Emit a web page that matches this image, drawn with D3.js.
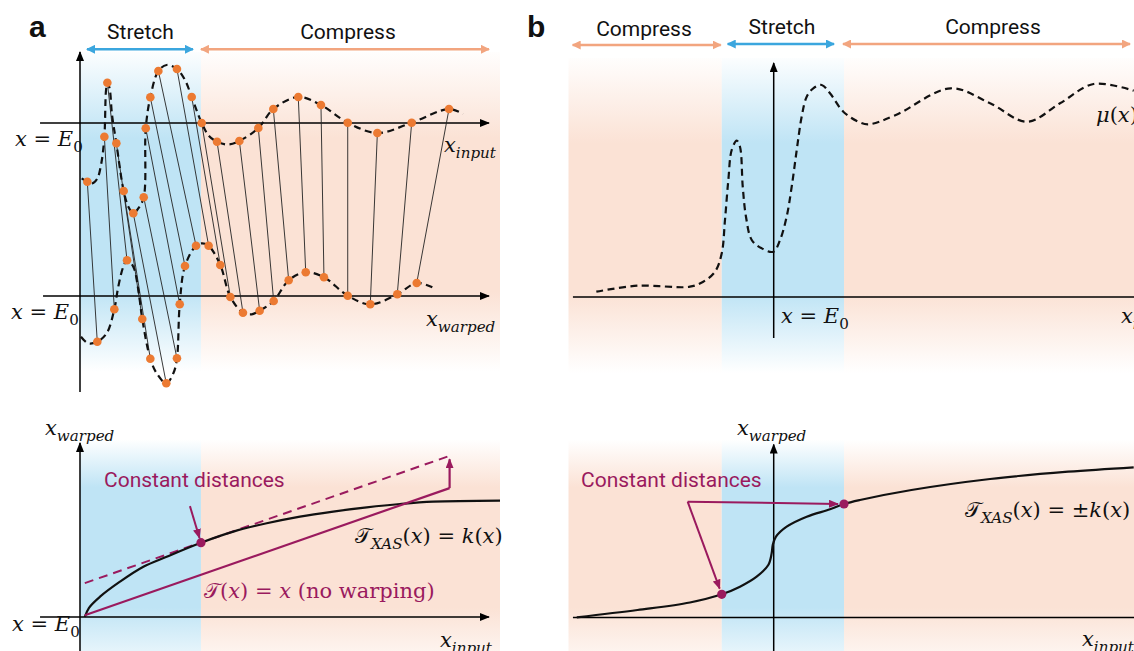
<!DOCTYPE html>
<html><head><meta charset="utf-8">
<script src="https://cdn.jsdelivr.net/npm/d3@7"></script>
<style>
html,body{margin:0;padding:0;background:#fff;overflow:hidden}
svg{display:block}
</style></head><body>
<svg id="fig" width="1134" height="651"></svg>
<script>
// ---------- data (x relative to E0, y as signal amplitude) ----------
// Panel a: samples of the input spectrum and of its warped copy
const inputSamples = [[0.61,-5.87],[2.03,-1.37],[2.28,4.03],[3.03,-2.03],[3.64,-6.8],[4.44,-9.03],[5.31,-7.43],[5.48,-0.53],[5.86,2.57],[6.53,5.2],[8.08,5.4],[9.31,2.6],[10.14,0],[11.42,-1.87],[13.28,-1.8],[14.86,-0.5],[16.11,1.4],[18.19,2.6],[20.08,1.8],[22.31,0.03],[24.78,-1.0],[27.64,0.03],[30.75,1.4]];
const inputKnots = [[0.14,-5.53],[1.0,-6.05],[1.42,-5.6],[1.75,-4.2],[2.17,3.3],[2.46,3.5],[2.67,0.8],[4.03,-8.37],[4.86,-8.53],[7.22,5.8],[8.75,4.3],[10.75,-1.3],[12.33,-2.15],[31.92,0.9]];
const warpedSamples = [[1.44,-4.57],[2.86,-1.33],[3.92,3.57],[5.19,-2.3],[5.86,-6.27],[7.19,-8.73],[8.08,-6.23],[8.31,-0.83],[8.75,3.0],[9.67,5.03],[10.72,5.03],[11.69,3.1],[12.53,-0.1],[13.58,-1.67],[14.97,-1.47],[16.14,-0.5],[17.39,1.57],[18.81,2.37],[20.33,1.87],[22.31,0.03],[24.19,-0.83],[26.44,0.17],[28.06,1.3]];
const warpedKnots = [[0.08,-4.07],[0.69,-4.73],[2.22,-3.73],[3.19,0.93],[3.61,2.93],[4.44,2.93],[4.86,0.6],[6.39,-7.73],[7.78,-7.73],[10.19,5.27],[14.31,-1.83],[29.36,0.87]];
// Panel a, lower plot: warping function k(x) and reference lines
const kxCurve = [[0.4,0],[0.75,2.2],[1.67,4.85],[3.33,8.43],[5.28,12.0],[7.22,14.4],[10.08,17.75],[12.78,20.4],[15.56,22.4],[18.33,24.0],[21.1,25.2],[23.9,26.2],[26.67,27.0],[29.44,27.55],[35,27.8]];
const identityLine = [[0.4,0.4],[30.8,30.8]];
const shiftedLine = [[0.4,8.1],[30.9,38.6]];
const anchorA = [10.08,17.75];
const stretchA = [0,10.08], extentA = 35;
// Panel b: absorption spectrum mu(x) and the symmetric warping function
const muCurve = [[-14.78,0.53],[-11.35,1.13],[-6.98,1.03],[-5.87,1.53],[-4.89,2.53],[-4.33,4.37],[-4.06,7.7],[-3.78,11.7],[-3.5,14.7],[-3.08,15.63],[-2.81,15.03],[-2.58,11.03],[-2.31,8.03],[-1.83,5.7],[-1.0,4.87],[-0.03,4.53],[0.53,5.7],[1.08,8.03],[1.5,11.03],[1.92,14.7],[2.33,18.03],[2.75,20.03],[3.3,20.87],[4.0,21.2],[4.69,20.37],[5.8,18.53],[7.05,17.53],[7.9,17.27],[10.18,18.2],[14.75,20.87],[18.03,19.37],[21.11,17.53],[23.86,19.37],[26.66,21.3],[30.0,20.63]];
const kCurveB = [[-16.41,0.02],[-11.35,0.75],[-6.98,1.5],[-4.33,2.32],[-2.81,3.08],[-1.42,4.08],[-0.45,5.25],[-0.17,6.42],[-0.08,7.25],[0.19,8.08],[1.08,9.08],[2.75,10.08],[4.69,10.82],[5.86,11.35],[7.19,11.75],[11.48,12.75],[18.03,13.85],[24.53,14.58],[30.0,15.02]];
const anchorsB = [[-4.33,2.32],[5.86,11.35]];
const stretchB = [-4.33,5.86], extentB = [-17.1,30.5];
// Text
const regionLabels = {stretch:"Stretch", compress:"Compress"};
const noteText = "Constant distances";

// ---------- styling ----------
const BLUE_FILL="#bfe4f5", ORANGE_FILL="#fbe2d5", BLUE_LINE="#3ba6de", ORANGE_LINE="#f2a57f", PURPLE="#9a1a5e", DOT="#ec7a32";
const SANS='Roboto, "Liberation Sans", sans-serif';
const SERIF='"DejaVu Serif", "DejaVu Sans", "Noto Sans", serif';
const MATH_SIZE = 21;
const DASH = "7,4.5";

const svg = d3.select("#fig");
svg.append("rect").attr("width",1134).attr("height",651).attr("fill","#fff");
const defs = svg.append("defs");

function grad(id, color, stops){
  const g = defs.append("linearGradient").attr("id",id).attr("x1",0).attr("y1",0).attr("x2",0).attr("y2",1);
  stops.forEach(([o,a])=>g.append("stop").attr("offset",o).attr("stop-color",color).attr("stop-opacity",a));
}
const topStops=[[0,0.05],[0.27,1],[0.75,1],[1,0]];
const botStops=[[0,0],[0.2,1],[0.7,1],[1,0]];
grad("gBlueTop",BLUE_FILL,topStops); grad("gOrTop",ORANGE_FILL,topStops);
grad("gBlueBot",BLUE_FILL,botStops); grad("gOrBot",ORANGE_FILL,botStops);

function marker(id,color,w,h){
  defs.append("marker").attr("id",id).attr("viewBox",`0 0 ${w} ${h}`)
    .attr("refX",w-1).attr("refY",h/2).attr("markerWidth",w).attr("markerHeight",h)
    .attr("markerUnits","userSpaceOnUse").attr("orient","auto-start-reverse")
    .append("path").attr("d",`M0,0L${w},${h/2}L0,${h}Z`).attr("fill",color);
}
marker("mAxis","#000",10,8); marker("mBlue",BLUE_LINE,9,9); marker("mOr",ORANGE_LINE,9,9); marker("mPur",PURPLE,10,8);

// ---------- scales ----------
const xA = d3.scaleLinear().domain([0,35]).range([80,500]);
const yAin = d3.scaleLinear().domain([0,10]).range([123,23]);
const yAw = d3.scaleLinear().domain([0,10]).range([296,196]);
const yAb = d3.scaleLinear().domain([0,40]).range([617,449.6]);
const xB = d3.scaleLinear().domain([0,30]).range([773.7,1133.7]);
const yBt = d3.scaleLinear().domain([0,10]).range([297,197]);
const yBb = d3.scaleLinear().domain([0,10]).range([617.5,517.5]);

const smooth = d3.curveCatmullRom.alpha(0.5);
const byX = (a,b)=>a[0]-b[0];

// ---------- helpers ----------
function band(x, x0, x1, y, y0, y1, fill){
  svg.append("rect").attr("x",x(x0)).attr("width",x(x1)-x(x0))
    .attr("y",y(y0)).attr("height",y(y1)-y(y0)).attr("fill",fill);
}
function segment(p0,p1,opt){
  const l = svg.append("line").attr("x1",p0[0]).attr("y1",p0[1]).attr("x2",p1[0]).attr("y2",p1[1])
    .attr("stroke",opt.color||"#000").attr("stroke-width",opt.width||1.5);
  if(opt.end) l.attr("marker-end",`url(#${opt.end})`);
  if(opt.start) l.attr("marker-start",`url(#${opt.start})`);
  if(opt.dash) l.attr("stroke-dasharray",opt.dash);
  return l;
}
function mathLabel(x,y,parts,opt={}){
  const size=opt.size||MATH_SIZE;
  const t=svg.append("text").attr("x",x).attr("y",y).attr("font-family",SERIF)
    .attr("font-size",size).attr("fill",opt.color||"#111").attr("text-anchor",opt.anchor||"start")
    .style("white-space","pre");
  let shift=0;
  parts.forEach(p=>{
    const s=t.append("tspan").text(p.t);
    if(p.i) s.attr("font-style","italic");
    const target=p.sub?size*0.3:0;
    if(target!==shift){ s.attr("dy",target-shift); shift=target; }
    if(p.sub) s.attr("font-size",size*0.72);
  });
  return t;
}
function sansLabel(x,y,txt,opt={}){
  return svg.append("text").attr("x",x).attr("y",y).text(txt).attr("font-family",opt.family||SANS)
    .attr("font-size",opt.size||21).attr("font-weight",opt.weight||400)
    .attr("fill",opt.color||"#111").attr("text-anchor",opt.anchor||"middle");
}
function shorten(p0,p1,d){
  const dx=p1[0]-p0[0], dy=p1[1]-p0[1], L=Math.hypot(dx,dy);
  return [p1[0]-dx/L*d, p1[1]-dy/L*d];
}
const xEq=[{t:"x",i:1},{t:" = "},{t:"E",i:1},{t:"0",sub:1}];
const xIn=[{t:"x",i:1},{t:"input",i:1,sub:1}];
const xWarp=[{t:"x",i:1},{t:"warped",i:1,sub:1}];

// ================= Panel a (top) =================
band(xA,stretchA[0],stretchA[1],yAin,7.1,-24.9,"url(#gBlueTop)");
band(xA,stretchA[1],extentA,yAin,7.1,-24.9,"url(#gOrTop)");
// region arrows
segment([xA(stretchA[0])+7,49.3],[xA(stretchA[1])-8,49.3],{color:BLUE_LINE,width:2.5,start:"mBlue",end:"mBlue"});
segment([xA(stretchA[1]),49.3],[xA(34.08),49.3],{color:ORANGE_LINE,width:2.5,start:"mOr",end:"mOr"});
sansLabel((xA(stretchA[0])+xA(stretchA[1]))/2,39,regionLabels.stretch);
sansLabel(348,39,regionLabels.compress);
sansLabel(29,37,"a",{size:30,weight:700,anchor:"start",family:'"Liberation Sans", Arial, sans-serif'});
// axes
segment([xA(0),yAin(-26.9)],[xA(0),yAin(7.1)],{end:"mAxis"});
segment([xA(-3.33),yAin(0)],[xA(34.08),yAin(0)],{end:"mAxis"});
segment([xA(-3.08),yAw(0)],[xA(34.08),yAw(0)],{end:"mAxis"});
// sample correspondences
inputSamples.forEach((p,i)=>{
  const q=warpedSamples[i];
  segment([xA(p[0]),yAin(p[1])],[xA(q[0]),yAw(q[1])],{color:"#222",width:0.9});
});
// dashed spectra
const lineIn=d3.line().x(d=>xA(d[0])).y(d=>yAin(d[1])).curve(smooth);
const lineW=d3.line().x(d=>xA(d[0])).y(d=>yAw(d[1])).curve(smooth);
svg.append("path").attr("d",lineIn(inputSamples.concat(inputKnots).sort(byX)))
  .attr("fill","none").attr("stroke","#111").attr("stroke-width",2.2).attr("stroke-dasharray",DASH);
svg.append("path").attr("d",lineW(warpedSamples.concat(warpedKnots).sort(byX)))
  .attr("fill","none").attr("stroke","#111").attr("stroke-width",2.2).attr("stroke-dasharray",DASH);
svg.append("g").selectAll("circle").data(inputSamples).join("circle")
  .attr("cx",d=>xA(d[0])).attr("cy",d=>yAin(d[1])).attr("r",4.3).attr("fill",DOT);
svg.append("g").selectAll("circle").data(warpedSamples).join("circle")
  .attr("cx",d=>xA(d[0])).attr("cy",d=>yAw(d[1])).attr("r",4.3).attr("fill",DOT);
mathLabel(15,146,xEq);
mathLabel(11,319,xEq);
mathLabel(444,152,xIn);
mathLabel(426,326,xWarp);

// ================= Panel a (bottom) =================
band(xA,stretchA[0],stretchA[1],yAb,42.5,-15,"url(#gBlueBot)");
band(xA,stretchA[1],extentA,yAb,42.5,-15,"url(#gOrBot)");
segment([xA(0),yAb(-8.5)],[xA(0),yAb(41.6)],{end:"mAxis"});
segment([xA(-3.33),yAb(0)],[xA(34.08),yAb(0)],{end:"mAxis"});
const lineAb=d3.line().x(d=>xA(d[0])).y(d=>yAb(d[1]));
svg.append("path").attr("d",lineAb(shiftedLine)).attr("fill","none").attr("stroke",PURPLE)
  .attr("stroke-width",2).attr("stroke-dasharray","9,6");
svg.append("path").attr("d",lineAb.curve(smooth)(kxCurve)).attr("fill","none").attr("stroke","#111").attr("stroke-width",2.2);
svg.append("path").attr("d",d3.line().x(d=>xA(d[0])).y(d=>yAb(d[1]))(identityLine)).attr("fill","none")
  .attr("stroke",PURPLE).attr("stroke-width",2.2);
// offset arrow between the two reference lines
const endId=identityLine[1];
segment([xA(endId[0]),yAb(endId[1])],[xA(endId[0]),yAb(endId[1]+6.9)],{color:PURPLE,width:2.2,end:"mPur"});
svg.append("circle").attr("cx",xA(anchorA[0])).attr("cy",yAb(anchorA[1])).attr("r",4.6).attr("fill",PURPLE);
{
  const p0=[xA(anchorA[0]-0.92),yAb(anchorA[1]+8.75)], dot=[xA(anchorA[0]),yAb(anchorA[1])];
  segment(p0,shorten(p0,dot,5),{color:PURPLE,width:2,end:"mPur"});
}
sansLabel(104,487,noteText,{anchor:"start",color:PURPLE});
mathLabel(355,543,[{t:"𝒯"},{t:"XAS",i:1,sub:1},{t:"("},{t:"x",i:1},{t:") = "},{t:"k",i:1},{t:"("},{t:"x",i:1},{t:")"}]);
mathLabel(204,598,[{t:"𝒯"},{t:"("},{t:"x",i:1},{t:") = "},{t:"x",i:1},{t:" (no warping)"}],{color:PURPLE});
mathLabel(45,435,xWarp);
mathLabel(12,631,xEq);
mathLabel(440,647,xIn);

// ================= Panel b (top) =================
band(xB,extentB[0],stretchB[0],yBt,23.9,-7.6,"url(#gOrTop)");
band(xB,stretchB[0],stretchB[1],yBt,23.9,-7.6,"url(#gBlueTop)");
band(xB,stretchB[1],extentB[1],yBt,23.9,-7.6,"url(#gOrTop)");
segment([572.7,45],[xB(stretchB[0])-1,45],{color:ORANGE_LINE,width:2.5,start:"mOr",end:"mOr"});
segment([xB(stretchB[0])+6,44],[xB(stretchB[1])-10,44],{color:BLUE_LINE,width:2.5,start:"mBlue",end:"mBlue"});
segment([xB(stretchB[1])-1,44],[1130,44],{color:ORANGE_LINE,width:2.5,start:"mOr",end:"mOr"});
sansLabel(644,36,regionLabels.compress);
sansLabel(782,34,regionLabels.stretch);
sansLabel(993,34,regionLabels.compress);
sansLabel(527,37,"b",{size:30,weight:700,anchor:"start",family:'"Liberation Sans", Arial, sans-serif'});
segment([xB(0),yBt(-4.1)],[xB(0),yBt(23.4)],{end:"mAxis"});
segment([xB(-16.73),yBt(0)],[xB(31),yBt(0)],{});
const lineBt=d3.line().x(d=>xB(d[0])).y(d=>yBt(d[1])).curve(smooth);
svg.append("path").attr("d",lineBt(muCurve)).attr("fill","none").attr("stroke","#111")
  .attr("stroke-width",2.2).attr("stroke-dasharray",DASH);
mathLabel(1096,122,[{t:"μ",i:1},{t:"("},{t:"x",i:1},{t:")"}]);
mathLabel(781,323,xEq);
mathLabel(1121,323,xIn);

// ================= Panel b (bottom) =================
band(xB,extentB[0],stretchB[0],yBb,17.8,-6.2,"url(#gOrBot)");
band(xB,stretchB[0],stretchB[1],yBb,17.8,-6.2,"url(#gBlueBot)");
band(xB,stretchB[1],extentB[1],yBb,17.8,-6.2,"url(#gOrBot)");
segment([xB(0),yBb(-3.5)],[xB(0),yBb(17.3)],{end:"mAxis"});
segment([xB(-16.73),yBb(0)],[xB(31),yBb(0)],{});
const lineBb=d3.line().x(d=>xB(d[0])).y(d=>yBb(d[1])).curve(smooth);
svg.append("path").attr("d",lineBb(kCurveB)).attr("fill","none").attr("stroke","#111").attr("stroke-width",2.2);
{
  const origin=[xB(-7.17),yBb(11.58)];
  anchorsB.forEach(a=>{
    const dot=[xB(a[0]),yBb(a[1])];
    segment(origin,shorten(origin,dot,6),{color:PURPLE,width:2,end:"mPur"});
  });
}
svg.append("g").selectAll("circle").data(anchorsB).join("circle")
  .attr("cx",d=>xB(d[0])).attr("cy",d=>yBb(d[1])).attr("r",4.6).attr("fill",PURPLE);
sansLabel(581,487,noteText,{anchor:"start",color:PURPLE});
mathLabel(965,517,[{t:"𝒯"},{t:"XAS",i:1,sub:1},{t:"("},{t:"x",i:1},{t:") = ±"},{t:"k",i:1},{t:"("},{t:"x",i:1},{t:")"}]);
mathLabel(737,435,xWarp);
mathLabel(1082,646,xIn);
</script>
</body></html>
